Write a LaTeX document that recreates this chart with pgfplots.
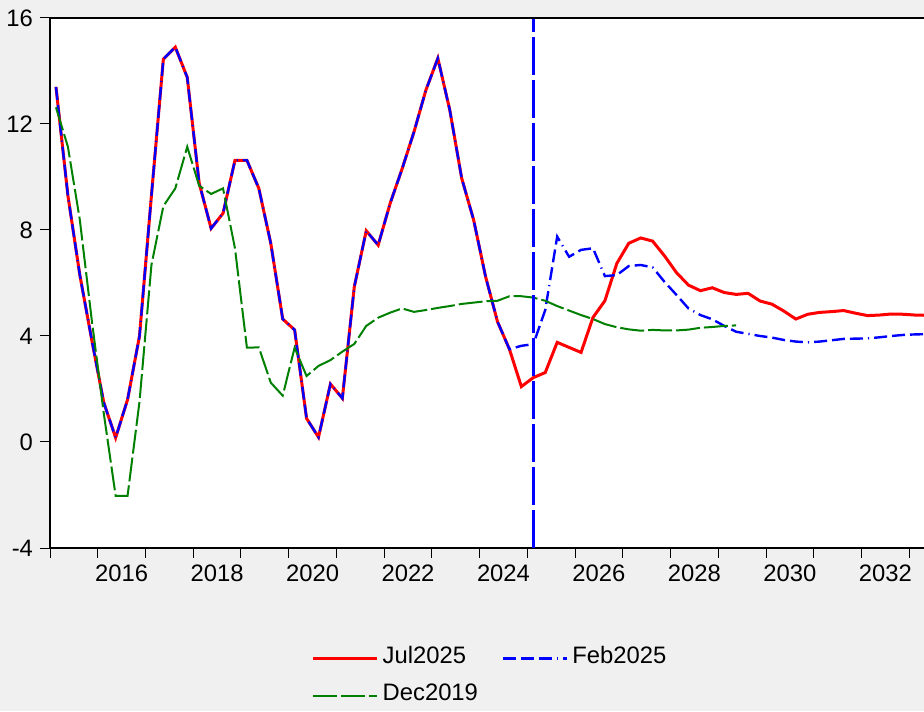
\documentclass[border=0pt]{standalone}
\usepackage{pgfplots}
\pgfplotsset{compat=1.18}
\usepackage{pgfplotstable}
\usepackage{fontspec}
\setmainfont{Liberation Sans}
\definecolor{bggray}{HTML}{F0F0F0}
\definecolor{egreen}{RGB}{0,128,0}

\pgfplotstableread{
t r b g
2015.125 13.4 13.4 12.63
2015.375 9.3 9.3 11.14
2015.625 6.3 6.3 8.38
2015.875 3.85 3.85 4.6
2016.125 1.5 1.5 1.1
2016.375 0.16 0.16 -2.03
2016.625 1.6 1.6 -2.03
2016.875 4.0 4.0 1.52
2017.125 9.3 9.3 6.68
2017.375 14.45 14.45 8.9
2017.625 14.9 14.9 9.57
2017.875 13.76 13.76 11.14
2018.125 9.77 9.77 9.67
2018.375 8.06 8.06 9.36
2018.625 8.63 8.63 9.57
2018.875 10.63 10.63 7.31
2019.125 10.63 10.63 3.56
2019.375 9.57 9.57 3.57
2019.625 7.5 7.5 2.24
2019.875 4.64 4.64 1.75
2020.125 4.23 4.23 3.56
2020.375 0.89 0.89 2.49
2020.625 0.18 0.18 2.87
2020.875 2.19 2.19 3.09
2021.125 1.65 1.65 3.41
2021.375 5.86 5.86 3.7
2021.625 7.97 7.97 4.38
2021.875 7.43 7.43 4.69
2022.125 9.0 9.0 4.88
2022.375 10.3 10.3 5.04
2022.625 11.7 11.7 4.91
2022.875 13.28 13.28 4.98
2023.125 14.48 14.48 5.06
2023.375 12.53 12.53 5.13
2023.625 9.95 9.95 5.21
2023.875 8.38 8.38 5.26
2024.125 6.24 6.24 5.31
2024.375 4.54 4.54 5.33
2024.625 3.5 3.5 5.5
2024.875 2.09 3.63 5.5
2025.125 2.43 3.69 5.45
2025.375 2.62 4.98 5.33
2025.625 3.76 7.75 5.13
2025.875 3.57 6.99 4.96
2026.125 3.38 7.25 4.79
2026.375 4.7 7.31 4.64
2026.625 5.33 6.26 4.45
2026.875 6.74 6.3 4.33
2027.125 7.5 6.64 4.25
2027.375 7.7 6.68 4.2
2027.625 7.58 6.59 4.23
2027.875 7.02 6.04 4.21
2028.125 6.39 5.55 4.21
2028.375 5.92 5.04 4.24
2028.625 5.71 4.79 4.31
2028.875 5.82 4.63 4.34
2029.125 5.64 4.38 4.38
2029.375 5.57 4.16 4.4
2029.625 5.61 4.08 nan
2029.875 5.32 4.0 nan
2030.125 5.2 3.94 nan
2030.375 4.94 3.85 nan
2030.625 4.64 3.79 nan
2030.875 4.82 3.76 nan
2031.125 4.89 3.79 nan
2031.375 4.92 3.84 nan
2031.625 4.96 3.89 nan
2031.875 4.86 3.9 nan
2032.125 4.77 3.91 nan
2032.375 4.79 3.95 nan
2032.625 4.83 4.0 nan
2032.875 4.82 4.04 nan
2033.125 4.79 4.06 nan
2033.375 4.78 4.07 nan
}\data

\begin{document}
\begin{tikzpicture}
\fill[bggray] (0,0) rectangle (462pt,355.5pt);
\useasboundingbox (0,0) rectangle (462pt,355.5pt);
\begin{axis}[
  at={(25pt,81.5pt)}, anchor=south west,
  width=437pt, height=265pt, scale only axis,
  xmin=2015, xmax=2033.31, ymin=-4, ymax=16,
  axis background/.style={fill=white},
  axis lines=left,
  axis line style={-, line width=0.8pt, black},
  tick align=outside,
  ytick={-4,0,4,8,12,16},
  xtick={2016.5,2018.5,2020.5,2022.5,2024.5,2026.5,2028.5,2030.5,2032.5},
  xticklabels={2016,2018,2020,2022,2024,2026,2028,2030,2032},
  minor xtick={2015,2016,...,2033},
  major x tick style={draw=none},
  major tick length=5pt, minor tick length=5pt,
  every tick/.style={black, line width=0.5pt},
  minor tick style={black, line width=0.5pt},
  /pgf/number format/assume math mode=true,
  tick label style={font=\fontsize{11.9}{14}\selectfont},
  scaled ticks=false,
  legend columns=2,
  legend cell align=left,
  legend image code/.code={\draw[#1] (0pt,0pt) -- (32pt,0pt);},
  legend style={draw=none, fill=none, at={(0.5046,-0.2434)}, anchor=center,
    font=\fontsize{11.9}{14}\selectfont,
    nodes={text height=0.75em, text depth=0.25em},
    /tikz/row sep=4.5pt,
    /tikz/every even column/.append style={column sep=10pt}},
]
\addplot[red, line width=1.5pt] table[x=t, y=r] {\data};
\addlegendentry{Jul2025}
\addplot[blue, line width=1.2pt, dash pattern=on 6.5pt off 2.5pt on 6.5pt off 2.5pt on 6.5pt off 2.5pt on 0.6pt off 2.5pt] table[x=t, y=b] {\data};
\addlegendentry{Feb2025}
\addplot[egreen, line width=1pt, dash pattern=on 12pt off 2pt] table[x=t, y=g] {\data};
\addlegendentry{Dec2019}
\addplot[blue, line width=1.5pt, dash pattern=on 19pt off 2.5pt, forget plot] coordinates {(2025.125,-4) (2025.125,16)};
\draw[black, line width=0.8pt] (rel axis cs:0,1) -- (rel axis cs:1,1);
\end{axis}
\end{tikzpicture}
\end{document}
